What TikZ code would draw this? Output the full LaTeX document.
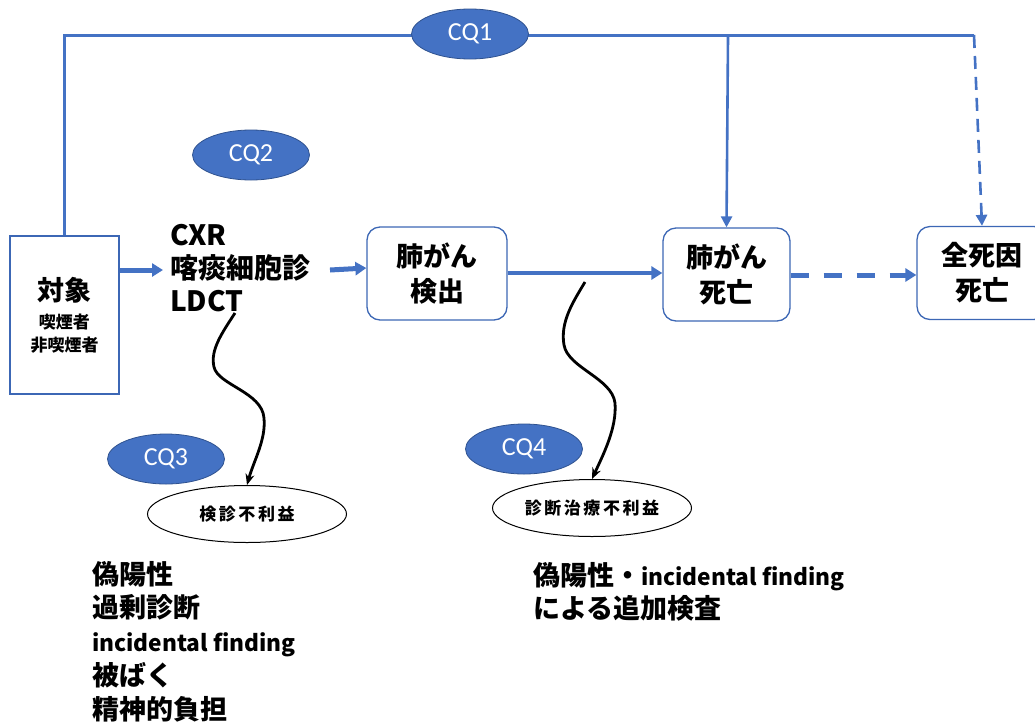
\documentclass[tikz,border=0pt]{standalone}
\usepackage{fontspec}
\setmainfont{Carlito}
\newfontfamily\jp{Noto Sans CJK JP}
\newfontfamily\carl{Carlito}
\usetikzlibrary{arrows.meta,shapes.geometric}
\definecolor{blu}{HTML}{4472C4}
\definecolor{cqedge}{HTML}{2F528F}
\definecolor{boxe}{HTML}{3C67B5}
\newcommand{\fs}[2]{\fontsize{#1}{#2}\selectfont}
\newcommand{\incf}{{\jp\bfseries\fs{22.7}{30}incidental finding}}
\begin{document}
\begin{tikzpicture}[x=1pt,y=-1pt,
  cq/.style={ellipse, fill=blu, draw=cqedge, line width=0.8pt, minimum width=117pt, minimum height=50pt, inner sep=0pt, text=white, font=\carl\fs{26}{26}},
  harm/.style={ellipse, draw=black, line width=1pt, fill=white, minimum width=199pt, minimum height=57pt, inner sep=0pt, font=\jp\bfseries\fs{17}{17}\addfontfeature{LetterSpace=15}},
  rbox/.style={draw=boxe, line width=1.3pt, rounded corners=13pt, fill=white, align=center, inner sep=0pt, minimum height=93pt, font=\jp\bfseries\fs{27}{35}},
  flow/.style={blu, line width=#1, -{Triangle[length=11pt,width=13pt]}},
  thin/.style={blu, line width=2.6pt},
  wavy/.style={black, line width=2.8pt, -{Stealth[length=11pt,width=9pt]}},
  txt/.style={anchor=base west, inner sep=0pt, font=\jp\bfseries\fs{27}{33}}
]
\useasboundingbox (0,0) rectangle (1035,723);

% nodes
\node[draw=boxe, line width=1.3pt, minimum width=109pt, minimum height=158pt, inner sep=0pt, align=center, font=\jp\bfseries\fs{17}{23}] (taisho) at (64.5,315)
  {{\fs{27}{30}対象}\\[5pt]喫煙者\\非喫煙者};
\node[anchor=west, inner sep=0pt, align=left, font=\jp\bfseries\fs{28}{33}] (tests) at (170,268) {CXR\\喀痰細胞診\\LDCT};
\node[rbox, minimum width=140pt] (detect) at (437,273.5) {肺がん\\検出};
\node[rbox, minimum width=127pt] (death) at (726.5,274.5) {肺がん\\死亡};
\node[rbox, minimum width=130pt] (all) at (982,273) {全死因\\死亡};

% top connector
\coordinate (tr) at (974,35);
\coordinate (j1) at (728,37);
\draw[blu, line width=3pt] (taisho.north) |- (tr);
\draw[thin, -{Triangle[length=11pt,width=11pt]}] (j1) -- (death.north);
\draw[thin, dash pattern=on 13pt off 8pt, -{Triangle[length=11pt,width=11pt]}] (tr) -- (all.north);
\node[cq] (cq1) at (470,34) {CQ1};
\node[cq] (cq2) at (251,155) {CQ2};
\node[cq] (cq3) at (166,459) {CQ3};
\node[cq] (cq4) at (524,449) {CQ4};

% main flow
\coordinate (t1) at (163,270);
\coordinate (t2) at (330,270);
\draw[flow=5pt] (taisho.east |- t1) -- (t1);
\draw[flow=5pt] (t2) -- (detect.west |- 0,268);
\draw[flow=4pt] (detect.east |- 0,273) -- (death.west |- 0,273);
\draw[flow=5pt, dash pattern=on 18pt off 15pt] (death.east |- 0,275) -- (all.west |- 0,275);

% harms
\node[harm] (h1) at (247,514) {検診不利益};
\node[harm] (h2) at (592,508) {診断治療不利益};

\coordinate (w1) at (235,313);
\draw[wavy] (w1) .. controls (222,333) and (210,350) .. (214,367)
   .. controls (218,385) and (262,392) .. (264,418)
   .. controls (266,440) and (254,460) .. (h1.north);
\coordinate (w2) at (585,282);
\draw[wavy] (w2) .. controls (573,302) and (560,322) .. (564,345)
   .. controls (568,368) and (612,378) .. (615,403)
   .. controls (617,428) and (603,455) .. (h2.north);

% lists
\node[txt] (l1) at (92,584) {偽陽性};
\node[txt] (l2) at (92,617) {過剰診断};
\node[txt] (l3) at (92,651) {\incf};
\node[txt] (l4) at (92,685) {被ばく};
\node[txt] (l5) at (92,719) {精神的負担};

\node[txt] (r1) at (533,585) {偽陽性・\incf};
\node[txt] (r2) at (533,618) {による追加検査};
\end{tikzpicture}
\end{document}
